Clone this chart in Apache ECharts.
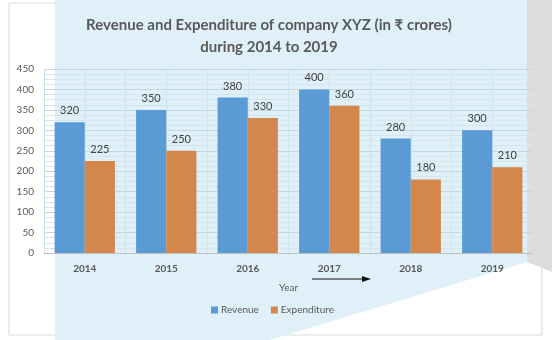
<!DOCTYPE html>
<html><head><meta charset="utf-8">
<script src="https://cdn.jsdelivr.net/npm/echarts@6/dist/echarts.min.js"></script>
<style>html,body{margin:0;padding:0;background:#fff}#c{width:552px;height:340px}</style>
</head><body><div id="c"></div>
<script>
const years = ['2014','2015','2016','2017','2018','2019'];
const revenue = [320, 350, 380, 400, 280, 300];
const expenditure = [225, 250, 330, 360, 180, 210];
const yTicks = {min: 0, max: 450, interval: 50};

const chart = echarts.init(document.getElementById('c'), null, {renderer: 'canvas'});
const font = 'Lato, "Noto Sans", sans-serif';
chart.setOption({
  animation: false,
  backgroundColor: '#ffffff',
  graphic: [
    {type: 'rect', z: -10, shape: {x: 9, y: 3, width: 533, height: 332}, style: {fill: '#fff', stroke: '#d9d9d9', lineWidth: 1}},
    {type: 'polygon', z: -9, shape: {points: [[55,0],[527,0],[527,262],[270,340],[55,340]]}, style: {fill: '#dff0f8'}},
    {type: 'polygon', z: -9, shape: {points: [[527,0],[552,0],[552,272],[527,262]]}, style: {fill: '#dcdcdc'}},
    {type: 'line', z: 10, shape: {x1: 312, y1: 279, x2: 364, y2: 279}, style: {stroke: '#111', lineWidth: 1}},
    {type: 'polygon', z: 10, shape: {points: [[371,279],[362,276],[362,282]]}, style: {fill: '#111'}}
  ],
  title: {
    text: 'Revenue and Expenditure of company XYZ (in ₹ crores)\nduring 2014 to 2019',
    left: 264, top: 9, textAlign: 'center',
    textStyle: {fontFamily: font, fontSize: 15, fontWeight: 'bold', color: '#595959', lineHeight: 22}
  },
  legend: {
    data: ['Revenue', 'Expenditure'],
    left: 206, top: 300,
    itemWidth: 7, itemHeight: 7, itemGap: 12,
    icon: 'rect',
    textStyle: {fontFamily: font, fontSize: 10, color: '#595959', padding: [0,0,0,-2]}
  },
  grid: {left: 44, right: 19, top: 69, bottom: 87},
  xAxis: [{
    type: 'category', data: years,
    name: 'Year', nameLocation: 'middle', nameGap: 30,
    nameTextStyle: {fontFamily: font, fontSize: 10, color: '#595959'},
    axisLine: {lineStyle: {color: '#bfbfbf'}},
    axisTick: {show: false},
    axisLabel: {fontFamily: font, fontSize: 10, fontWeight: 'bold', color: '#595959', margin: 11}
  }, {
    type: 'value', min: 0, max: 12, interval: 1, position: 'top',
    axisLine: {show: false}, axisTick: {show: false}, axisLabel: {show: false},
    splitLine: {show: true, lineStyle: {color: '#cfe3ec', width: 1}}
  }],
  yAxis: {
    type: 'value', min: yTicks.min, max: yTicks.max, interval: yTicks.interval,
    axisLine: {show: false}, axisTick: {show: false},
    axisLabel: {fontFamily: font, fontSize: 10, color: '#595959', margin: 10},
    splitLine: {lineStyle: {color: '#c4d6de', width: 1}},
    minorTick: {show: false, splitNumber: 4},
    minorSplitLine: {show: true, lineStyle: {color: '#d3e6ee', width: 1}}
  },
  series: [{
    name: 'Revenue', type: 'bar', data: revenue, xAxisIndex: 0,
    barGap: '0%', barCategoryGap: '26%',
    itemStyle: {color: '#5b9bd5'},
    label: {show: true, position: 'top', distance: 6, fontFamily: font, fontSize: 11, color: '#404040'}
  }, {
    name: 'Expenditure', type: 'bar', data: expenditure, xAxisIndex: 0,
    itemStyle: {color: '#d4874d'},
    label: {show: true, position: 'top', distance: 6, fontFamily: font, fontSize: 11, color: '#404040'}
  }]
});
</script></body></html>
